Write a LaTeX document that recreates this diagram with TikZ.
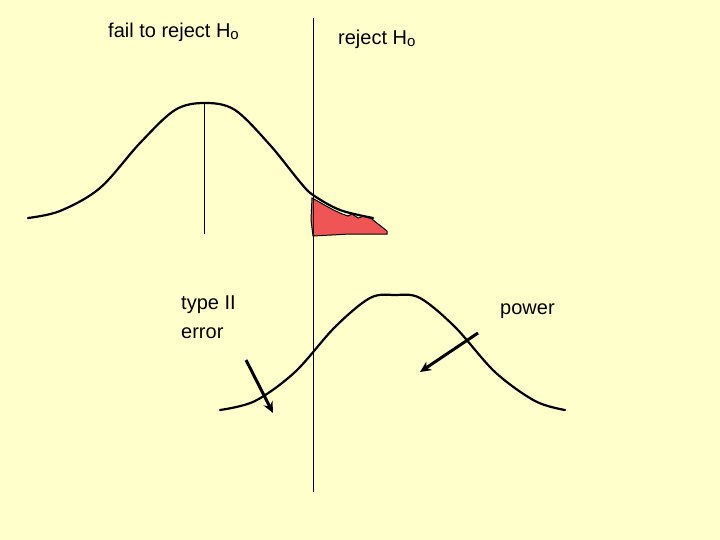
\documentclass[tikz,border=0pt]{standalone}
\usepackage{fontspec}
\setmainfont{Liberation Sans}
\usetikzlibrary{arrows.meta}
\newcommand{\subo}{\raisebox{-2pt}{\fontsize{15}{18}\selectfont o}}
\begin{document}
\begin{tikzpicture}[x=1pt,y=-1pt,
  curve/.style={line width=2.2pt,line cap=round},
  thin/.style={line width=1pt},
  lbl/.style={font=\fontsize{20}{29}\selectfont,inner sep=0pt,anchor=base west,align=left},
  arr/.style={line width=3pt,-{Stealth[length=11pt,width=10pt]}}]
\fill[fill={rgb,255:red,255;green,255;blue,204}] (0,0) rectangle (720,540);
\useasboundingbox (0,0) rectangle (720,540);
% red region
\fill[fill={rgb,255:red,240;green,85;blue,85},draw=black,line width=1pt]
 (312,198) .. controls (325,205) and (335,212) .. (348,216) -- (352,214) -- (358,218) -- (364,216) -- (372,219) -- (378,224) -- (382,227) -- (387,231) -- (387,234) -- (350,234) -- (313,236) -- (311,220) -- cycle;
% top curve
\draw[curve] plot[smooth,tension=0.55] coordinates {(28,218)(60,211)(100,188)(140,143)(175,110)(205,103)(235,110)(270,145)(300,182)(313,195)(340,210)(373,218)};
\draw[thin] (204,103) -- (204,234);
% vertical divider
\coordinate (vt) at (313,18); \coordinate (vb) at (313,492);
\draw[thin] (vt) -- (vb);
% bottom curve
\draw[curve] plot[smooth,tension=0.55] coordinates {(220,410)(255,401)(295,372)(335,327)(370,298)(395,295)(420,298)(455,327)(495,372)(535,401)(565,410)};
% labels
\node[lbl] (f) at (108,38) {fail to reject H\subo};
\node[lbl] (r) at (338,45) {reject H\subo};
\node[lbl] (t) at (181,338) {type II\\error};
\node[lbl] (p) at (500,314) {power};
\coordinate (a1s) at (246,360); \coordinate (a1e) at (273,413);
\coordinate (a2s) at (478,333); \coordinate (a2e) at (420,372);
\draw[arr] (a1s) -- (a1e);
\draw[arr] (a2s) -- (a2e);
\end{tikzpicture}
\end{document}
